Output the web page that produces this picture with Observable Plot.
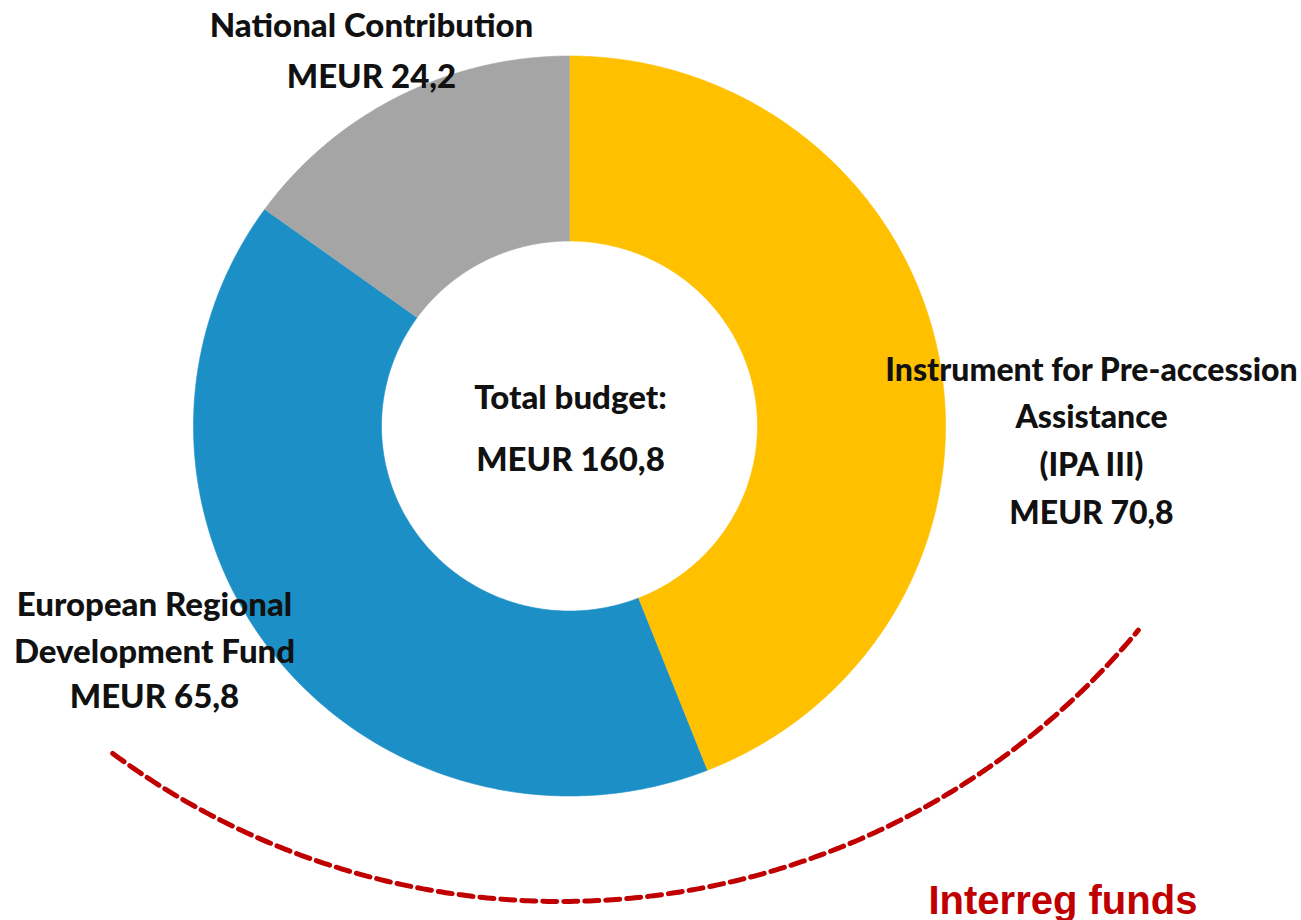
<!DOCTYPE html>
<html>
<head>
<meta charset="utf-8">
<script src="https://cdn.jsdelivr.net/npm/d3@7"></script>
<script src="https://cdn.jsdelivr.net/npm/@observablehq/plot@0.6"></script>
<style>
  html, body { margin: 0; padding: 0; background: #fff; }
  #chart svg { display: block; }
</style>
</head>
<body>
<div id="chart"></div>
<script>
// ---------- data ----------
const categories = ["IPA III", "ERDF", "National Contribution"];
const values = [70.8, 65.8, 24.2];
const labelLines = [
  ["Instrument for Pre-accession", "Assistance", "(IPA III)"],
  ["European Regional", "Development Fund"],
  ["National Contribution"]
];
const centerTitle = "Total budget:";
const fundsLabel = "Interreg funds";

// ---------- styles / layout (not data) ----------
const colors = {"IPA III": "#FFC000", "ERDF": "#1D8FC7", "National Contribution": "#A5A5A5"};
const W = 1301, H = 920;
const donut = {cx: 569, cy: 425.5, rxOuter: 376, ryOuter: 370, rxInner: 188, ryInner: 185};
const labelLayout = {
  "IPA III": {x: 1091, baselines: [380, 427, 475, 523], size: 32},
  "ERDF": {x: 154, baselines: [615, 662, 707], size: 33},
  "National Contribution": {x: 371, baselines: [36, 87], size: 33}
};
const centerLayout = {x: 570, baselines: [408, 470], size: 33};
const arcLayout = {cx: 560, cy: 150, r: 751, from: 126.6, to: 39.7};
const fundsLayout = {x: 928, y: 913};

const fmt = v => "MEUR " + v.toFixed(1).replace(".", ",");
const total = d3.sum(values);

// slices as polygons derived from the values
const slicePts = [];
let cum = 0;
categories.forEach((c, i) => {
  const a0 = cum / total * 2 * Math.PI;
  cum += values[i];
  const a1 = cum / total * 2 * Math.PI;
  const n = 240;
  for (let k = 0; k <= n; k++) {
    const a = a0 + (a1 - a0) * k / n;
    slicePts.push({cat: c, x: donut.cx + donut.rxOuter * Math.sin(a), y: donut.cy - donut.ryOuter * Math.cos(a)});
  }
  for (let k = n; k >= 0; k--) {
    const a = a0 + (a1 - a0) * k / n;
    slicePts.push({cat: c, x: donut.cx + donut.rxInner * Math.sin(a), y: donut.cy - donut.ryInner * Math.cos(a)});
  }
});

// label text rows
const labelRows = [];
categories.forEach((c, i) => {
  const lines = [...labelLines[i], fmt(values[i])];
  const L = labelLayout[c];
  lines.forEach((t, j) => labelRows.push({cat: c, text: t, x: L.x, y: L.baselines[j]}));
});
const centerRows = [centerTitle, fmt(total)].map((t, j) => ({text: t, x: centerLayout.x, y: centerLayout.baselines[j]}));

// dashed arc path
const arcPts = [];
for (let k = 0; k <= 300; k++) {
  const deg = arcLayout.from + (arcLayout.to - arcLayout.from) * k / 300;
  const r = deg * Math.PI / 180;
  arcPts.push({x: arcLayout.cx + arcLayout.r * Math.cos(r), y: arcLayout.cy + arcLayout.r * Math.sin(r)});
}

const labelMarks = categories.map(c =>
  Plot.text(labelRows.filter(d => d.cat === c), {x: "x", y: "y", text: "text", lineAnchor: "bottom", textAnchor: "middle",
    fontFamily: "Lato", fontWeight: 900, fontSize: labelLayout[c].size, fill: "#111"})
);

const chart = Plot.plot({
  width: W,
  height: H,
  margin: 0,
  x: {domain: [0, W], range: [0, W], axis: null},
  y: {domain: [0, H], range: [0, H], axis: null},
  color: {domain: categories, range: categories.map(c => colors[c])},
  style: {background: "#fff"},
  marks: [
    Plot.line(slicePts, {x: "x", y: "y", z: "cat", fill: "cat", stroke: "cat", strokeWidth: 0.6, curve: "linear"}),
    Plot.line(arcPts, {x: "x", y: "y", stroke: "#C00000", strokeWidth: 5, strokeDasharray: "14,7", curve: "linear"}),
    ...labelMarks,
    Plot.text(centerRows, {x: "x", y: "y", text: "text", lineAnchor: "bottom", textAnchor: "middle",
      fontFamily: "Lato", fontWeight: 900, fontSize: centerLayout.size, fill: "#111"}),
    Plot.text([fundsLabel], {x: fundsLayout.x, y: fundsLayout.y, text: d => d, lineAnchor: "bottom", textAnchor: "start",
      fontFamily: "Liberation Sans", fontWeight: "bold", fontSize: 40, fill: "#C00000"})
  ]
});
document.getElementById("chart").appendChild(chart);
</script>
</body>
</html>
